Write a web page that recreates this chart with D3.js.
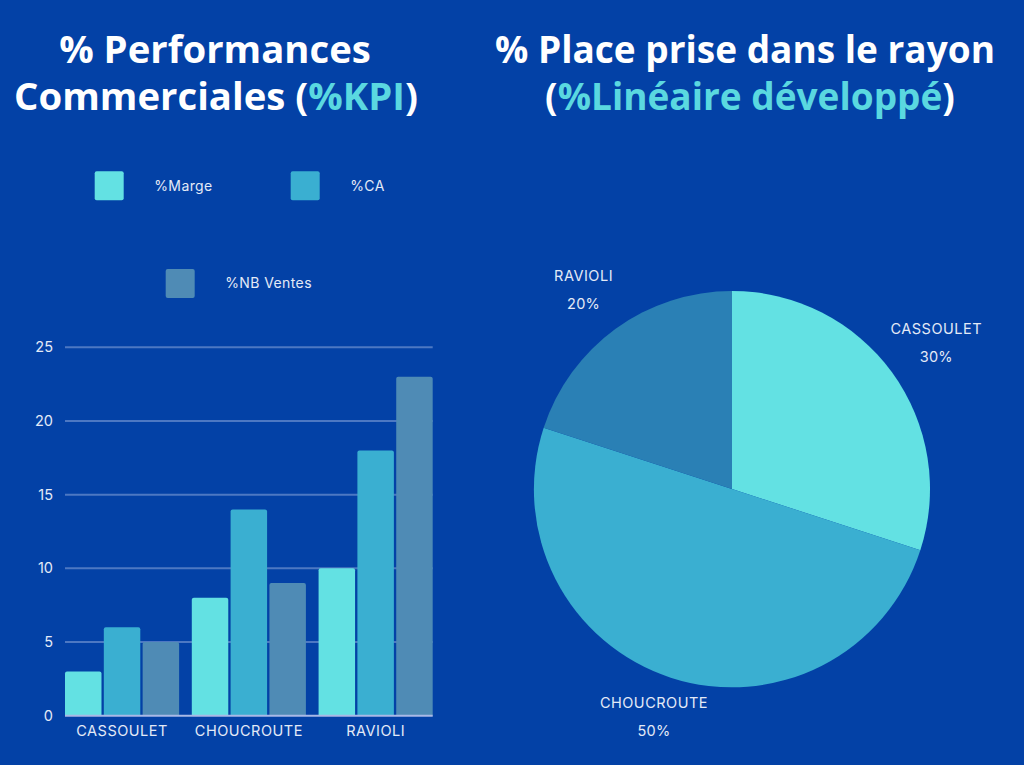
<!DOCTYPE html>
<html>
<head>
<meta charset="utf-8">
<script src="https://cdn.jsdelivr.net/npm/d3@7/dist/d3.min.js"></script>
<style>
  html, body { margin: 0; padding: 0; background: #0341a6; }
  svg { display: block; }
</style>
</head>
<body>
<svg id="chart" width="1024" height="765"></svg>
<script>
// ---- Data ----
const categories = ["CASSOULET", "CHOUCROUTE", "RAVIOLI"];
const seriesNames = ["%Marge", "%CA", "%NB Ventes"];
const marge = [3, 8, 10];
const ca = [6, 14, 18];
const nbVentes = [5, 9, 23];
const yTicks = [0, 5, 10, 15, 20, 25];
const pieLabels = ["CASSOULET", "CHOUCROUTE", "RAVIOLI"];
const pieValues = [30, 50, 20];

// ---- Style ----
const bg = "#0341a6";
const barColors = ["#63e1e3", "#3aafd1", "#4f8bb5"];
const pieColors = ["#63e1e3", "#3aafd1", "#2a80b5"];
const textColor = "#e3eaf7";
const accent = "#5ad8e0";
const smallFont = "Inter, 'Noto Sans', sans-serif";
const titleFont = "'Open Sans', 'Noto Sans', sans-serif";

const svg = d3.select("#chart");
svg.append("rect").attr("width", 1024).attr("height", 765).attr("fill", bg);

// ---- Titles ----
function title(cx, y, size, parts) {
  const t = svg.append("text").attr("x", cx).attr("y", y)
    .attr("text-anchor", "middle").attr("font-family", titleFont)
    .attr("font-weight", 700).attr("font-size", size);
  parts.forEach(p => t.append("tspan").attr("fill", p[1]).text(p[0]));
}
title(215, 63, 38.3, [["% Performances", "#ffffff"]]);
title(216, 110, 38.3, [["Commerciales (", "#ffffff"], ["%KPI", accent], [")", "#ffffff"]]);
title(745, 63, 37, [["% Place prise dans le rayon", "#ffffff"]]);
title(750, 110, 37, [["(", "#ffffff"], ["%Linéaire développé", accent], [")", "#ffffff"]]);

// ---- Bar chart ----
const x0 = d3.scaleBand().domain(categories).range([65, 432.7]).paddingInner(0.1).paddingOuter(0);
const x1 = d3.scaleBand().domain(seriesNames).range([0, x0.bandwidth()]).paddingInner(0.06);
const y = d3.scaleLinear().domain([0, 25]).range([715.7, 347.3]);

const grid = svg.append("g");
grid.selectAll("line").data(yTicks.filter(d => d > 0)).join("line")
  .attr("x1", 65).attr("x2", 432.7)
  .attr("y1", d => y(d)).attr("y2", d => y(d))
  .attr("stroke", "#5a82c8").attr("stroke-opacity", 0.85).attr("stroke-width", 2);

const yAxis = svg.append("g").attr("transform", "translate(53,0)")
  .call(d3.axisLeft(y).tickValues(yTicks).tickSize(0).tickPadding(0));
yAxis.select(".domain").remove();
yAxis.selectAll("text").attr("fill", textColor).attr("font-family", smallFont)
  .attr("font-size", 14.5).attr("font-weight", 400);

const seriesData = [marge, ca, nbVentes];
const groups = svg.append("g").selectAll("g").data(categories).join("g")
  .attr("transform", d => `translate(${x0(d)},0)`);
groups.selectAll("path").data((c, i) => seriesNames.map((s, j) => ({ s, j, v: seriesData[j][i] })))
  .join("path")
  .attr("fill", d => barColors[d.j])
  .attr("d", d => {
    const bx = x1(d.s), bw = x1.bandwidth(), top = y(d.v), bot = y(0), r = 2;
    return `M${bx},${bot}V${top + r}Q${bx},${top} ${bx + r},${top}H${bx + bw - r}Q${bx + bw},${top} ${bx + bw},${top + r}V${bot}Z`;
  });

// baseline
svg.append("line").attr("x1", 65).attr("x2", 432.7).attr("y1", y(0)).attr("y2", y(0))
  .attr("stroke", "#a9b9e6").attr("stroke-width", 2);

const xAxis = svg.append("g").attr("transform", `translate(0,${y(0)})`)
  .call(d3.axisBottom(x0).tickSize(0).tickPadding(10));
xAxis.select(".domain").remove();
xAxis.selectAll("text").attr("fill", textColor).attr("font-family", smallFont)
  .attr("font-size", 14.5).attr("font-weight", 400).attr("letter-spacing", 0.5);

// legend
const legendPos = [[94.7, 171.3], [290.7, 171.3], [165.7, 269]];
const legend = svg.append("g").selectAll("g").data(seriesNames).join("g")
  .attr("transform", (d, i) => `translate(${legendPos[i][0]},${legendPos[i][1]})`);
legend.append("rect").attr("width", 29).attr("height", 29).attr("rx", 2)
  .attr("fill", (d, i) => barColors[i]);
legend.append("text").attr("x", 59.5).attr("y", 14.5).attr("dy", "0.35em")
  .attr("fill", textColor).attr("font-family", smallFont).attr("font-size", 14)
  .attr("font-weight", 400).attr("letter-spacing", 0.4).text(d => d);

// ---- Pie ----
const cx = 732, cy = 489, R = 198;
const pie = d3.pie().sort(null).value(d => d)(pieValues);
const arc = d3.arc().innerRadius(0).outerRadius(R);
const labelArc = d3.arc().innerRadius(250).outerRadius(250);
const pg = svg.append("g").attr("transform", `translate(${cx},${cy})`);
pg.selectAll("path").data(pie).join("path")
  .attr("d", arc).attr("fill", (d, i) => pieColors[i]);

const lbl = pg.selectAll("g.lbl").data(pie).join("g").attr("class", "lbl")
  .attr("transform", d => { const c = labelArc.centroid(d); return `translate(${c[0] * 1.01},${c[1] * 0.97 - 3})`; });
lbl.append("text").attr("text-anchor", "middle").attr("y", -9)
  .attr("fill", textColor).attr("font-family", smallFont).attr("font-size", 14.5)
  .attr("font-weight", 400).attr("letter-spacing", 0.5)
  .text((d, i) => pieLabels[i]);
lbl.append("text").attr("text-anchor", "middle").attr("y", 19)
  .attr("fill", textColor).attr("font-family", smallFont).attr("font-size", 14.5)
  .attr("font-weight", 400).attr("letter-spacing", 0.3)
  .text((d, i) => pieValues[i] + "%");
</script>
</body>
</html>
